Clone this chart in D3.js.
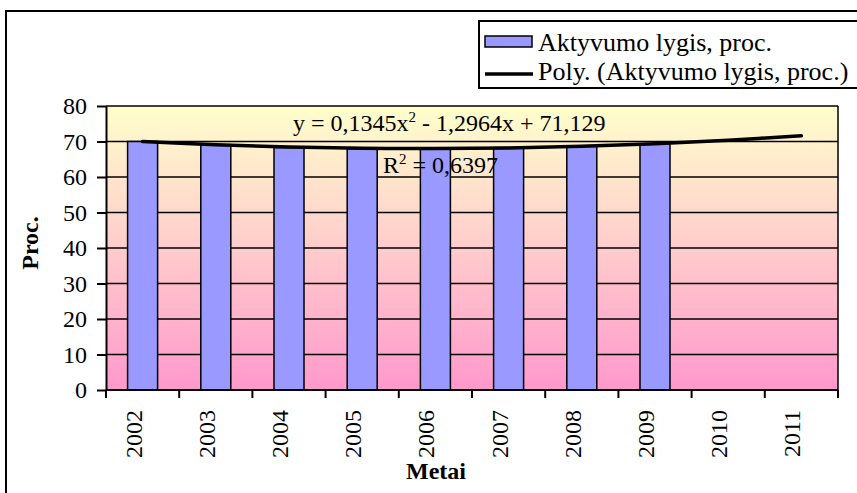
<!DOCTYPE html>
<html>
<head>
<meta charset="utf-8">
<script src="https://cdn.jsdelivr.net/npm/d3@7"></script>
<style>
  body { margin: 0; background: #fff; }
  text { font-family: "Liberation Serif", "Times New Roman", serif; fill: #000; }
</style>
</head>
<body>
<script>
// chart data
var years = ["2002", "2003", "2004", "2005", "2006", "2007", "2008", "2009", "2010", "2011"];
var activity = [70.0, 69.1, 68.3, 68.0, 67.9, 68.3, 68.7, 69.3, null, null];
var trend = [69.97, 69.07, 68.45, 68.10, 68.01, 68.19, 68.65, 69.37, 70.36, 71.62];
var yTicks = [0, 10, 20, 30, 40, 50, 60, 70, 80];

var width = 857, height = 493;
var margin = {top: 106, left: 106, right: 19, bottom: 103};

var svg = d3.select("body").append("svg")
    .attr("width", width)
    .attr("height", height);

// outer frame (runs past right and bottom edges)
svg.append("rect")
    .attr("x", 6).attr("y", 11)
    .attr("width", 880).attr("height", 520)
    .style("fill", "none").style("stroke", "#000").style("stroke-width", 2);

var x = d3.scaleBand().domain(years).range([margin.left, width - margin.right]).padding(0);
var y = d3.scaleLinear().domain([0, 80]).range([height - margin.bottom, margin.top]);

var defs = svg.append("defs");
var grad = defs.append("linearGradient")
    .attr("id", "bg").attr("x1", 0).attr("y1", 0).attr("x2", 0).attr("y2", 1);
grad.append("stop").attr("offset", "0%").attr("stop-color", "#FFFFCC");
grad.append("stop").attr("offset", "100%").attr("stop-color", "#FF99CC");

svg.append("rect")
    .attr("x", margin.left).attr("y", y(80))
    .attr("width", x.range()[1] - margin.left)
    .attr("height", y(0) - y(80))
    .style("fill", "url(#bg)");

// gridlines
svg.selectAll(".grid")
    .data(yTicks)
    .enter().append("line")
    .attr("class", "grid")
    .attr("x1", margin.left).attr("x2", x.range()[1])
    .attr("y1", function(d) { return y(d); })
    .attr("y2", function(d) { return y(d); })
    .style("stroke", "#000").style("stroke-width", 1.5);

// bars
var barW = x.bandwidth() * 0.41;
svg.selectAll(".bar")
    .data(years.map(function(d, i) { return {year: d, value: activity[i]}; })
        .filter(function(d) { return d.value != null; }))
    .enter().append("rect")
    .attr("class", "bar")
    .attr("x", function(d) { return x(d.year) + (x.bandwidth() - barW) / 2; })
    .attr("y", function(d) { return y(d.value); })
    .attr("width", barW)
    .attr("height", function(d) { return y(0) - y(d.value); })
    .style("fill", "#9999FF")
    .style("stroke", "#000").style("stroke-width", 1.5);

// plot border right + left axis
svg.append("line")
    .attr("x1", x.range()[1]).attr("x2", x.range()[1])
    .attr("y1", y(80)).attr("y2", y(0))
    .style("stroke", "#000").style("stroke-width", 1.5);

// trendline
var line = d3.line()
    .x(function(d, i) { return x(years[i]) + x.bandwidth() / 2; })
    .y(function(d) { return y(d); })
    .curve(d3.curveCatmullRom);

svg.append("path")
    .datum(trend)
    .attr("d", line)
    .style("fill", "none")
    .style("stroke", "#000")
    .style("stroke-width", 3.5)
    .style("stroke-linecap", "round");

// y axis
var yAxis = svg.append("g")
    .attr("transform", "translate(" + margin.left + ",0)")
    .call(d3.axisLeft(y).tickValues(yTicks).tickSize(9).tickPadding(10).tickSizeOuter(0));
yAxis.selectAll("line, path").style("stroke", "#000").style("stroke-width", 2);
yAxis.selectAll("text")
    .style("font-family", "Liberation Serif")
    .style("font-size", "24px");

// x axis, ticks on the category boundaries
var bounds = years.map(function(d) { return x(d); }).concat([x.range()[1]]);
var xAxis = svg.append("g");
xAxis.append("line")
    .attr("x1", margin.left).attr("x2", x.range()[1])
    .attr("y1", y(0)).attr("y2", y(0))
    .style("stroke", "#000").style("stroke-width", 2);
xAxis.selectAll(".xtick")
    .data(bounds)
    .enter().append("line")
    .attr("x1", function(d) { return d; }).attr("x2", function(d) { return d; })
    .attr("y1", y(0)).attr("y2", y(0) + 8)
    .style("stroke", "#000").style("stroke-width", 2);
xAxis.selectAll(".xLabel")
    .data(years)
    .enter().append("text")
    .attr("class", "xLabel")
    .attr("transform", function(d) {
        return "translate(" + (x(d) + x.bandwidth() / 2 - 1) + "," + 410 + ") rotate(-90)";
    })
    .style("text-anchor", "end")
    .style("font-size", "24px")
    .text(function(d) { return d; });

// axis titles
svg.append("text")
    .attr("transform", "translate(38," + 243 + ") rotate(-90)")
    .style("text-anchor", "middle")
    .style("font-weight", "bold")
    .style("font-size", "24px")
    .text("Proc.");

svg.append("text")
    .attr("x", 436).attr("y", 479)
    .style("text-anchor", "middle")
    .style("font-weight", "bold")
    .style("font-size", "24px")
    .text("Metai");

// trendline equation and R squared
var eq = svg.append("text")
    .attr("x", 293).attr("y", 131)
    .style("font-size", "24px");
eq.append("tspan").text("y = 0,1345x");
eq.append("tspan").attr("dy", -9).style("font-size", "15px").text("2");
eq.append("tspan").attr("dy", 9).text(" - 1,2964x + 71,129");

var r2 = svg.append("text")
    .attr("x", 383).attr("y", 173)
    .style("font-size", "24px");
r2.append("tspan").text("R");
r2.append("tspan").attr("dy", -9).style("font-size", "15px").text("2");
r2.append("tspan").attr("dy", 9).text(" = 0,6397");

// legend
var legend = svg.append("g");
legend.append("rect")
    .attr("x", 479).attr("y", 21)
    .attr("width", 400).attr("height", 67)
    .style("fill", "#fff").style("stroke", "#000").style("stroke-width", 2);
legend.append("rect")
    .attr("x", 485).attr("y", 36)
    .attr("width", 47).attr("height", 11)
    .style("fill", "#9999FF").style("stroke", "#000").style("stroke-width", 1.5);
legend.append("text")
    .attr("x", 538).attr("y", 51)
    .style("font-size", "26px")
    .text("Aktyvumo lygis, proc.");
legend.append("line")
    .attr("x1", 485).attr("x2", 533)
    .attr("y1", 74).attr("y2", 74)
    .style("stroke", "#000").style("stroke-width", 3.5);
legend.append("text")
    .attr("x", 538).attr("y", 80)
    .style("font-size", "26px")
    .text("Poly. (Aktyvumo lygis, proc.)");
</script>
</body>
</html>
